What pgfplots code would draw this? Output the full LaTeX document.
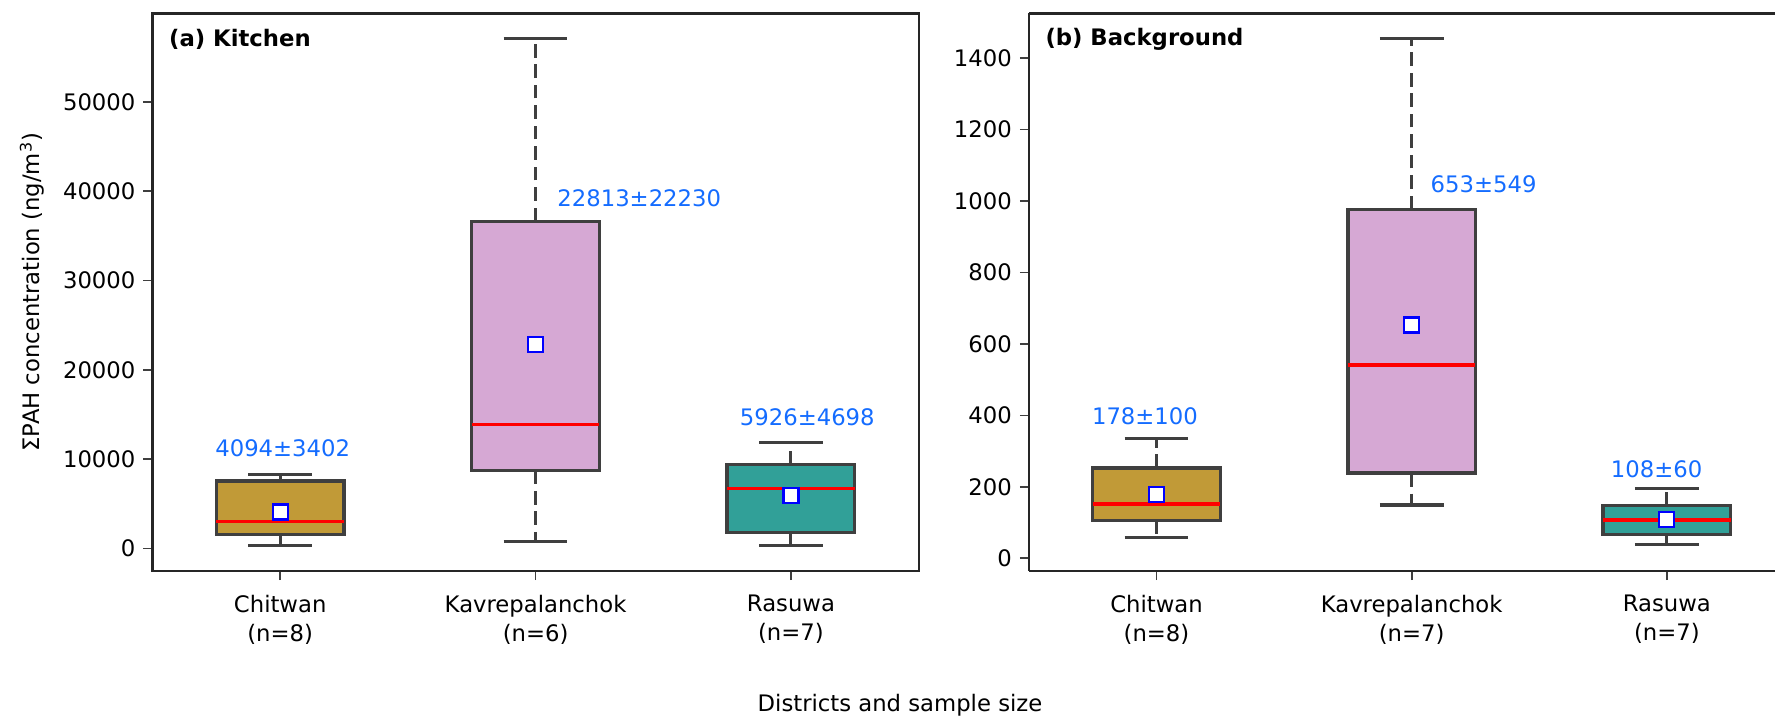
\documentclass[border=0pt]{standalone}
\usepackage{pgfplots}
\pgfplotsset{compat=1.18}
\usepackage{fontspec}
\setmainfont{DejaVu Sans}
\definecolor{cgold}{RGB}{193,154,55}
\definecolor{cplum}{RGB}{214,168,212}
\definecolor{cteal}{RGB}{49,160,152}
\definecolor{edge}{RGB}{63,63,63}
\definecolor{annblue}{RGB}{20,108,255}
\tikzset{
  annot/.style={text=annblue, font=\fontsize{10}{12}\selectfont},
  ptitle/.style={anchor=west, xshift=3.8pt, yshift=-11.3pt, font=\fontsize{10}{12}\selectfont\bfseries},
}
\pgfplotsset{
  boxst/.style={fill=#1, draw=edge, line width=1.45pt, mark=none},
  whisk/.style={draw=edge, line width=1.35pt, mark=none, dash pattern=on 6pt off 3pt},
  capst/.style={draw=edge, line width=1.45pt, mark=none},
  medst/.style={draw=red, line width=1.5pt, mark=none},
  meanmark/.style={only marks, mark=square*, mark size=3.3pt,
    mark options={fill=white, draw=blue, line width=1pt, solid}},
  myaxis/.style={
    scale only axis, height=245.3pt, anchor=north west,
    xtick={0,1,2}, xtick pos=bottom, ytick pos=left,
    tick align=outside, major tick length=4pt,
    tick style={draw=edge, line width=0.8pt},
    axis line style={draw=black!85, line width=1pt},
    ticklabel style={font=\fontsize{10}{12.8}\selectfont},
    xticklabel style={align=center, yshift=-3pt},
    scaled y ticks=false,
    /pgf/number format/.cd, 1000 sep={}, assume math mode=true,
  },
}
\begin{document}
\begin{tikzpicture}
\path[use as bounding box] (0,0) rectangle (781pt,-315.5pt);

% (a) Kitchen
\begin{axis}[myaxis, at={(67.1pt,-5.9pt)}, width=337.1pt,
  xmin=-0.5, xmax=2.5, ymin=-2500, ymax=59900,
  ytick={0,10000,20000,30000,40000,50000},
  xticklabels={{Chitwan\\(n=8)},{Kavrepalanchok\\(n=6)},{Rasuwa\\(n=7)}},
  ylabel={ΣPAH concentration (ng/m\textsuperscript{3})},
  every axis y label/.style={at={(axis description cs:-0.157,0.5)}, rotate=90, anchor=center, font=\fontsize{10}{12}\selectfont},
]
% Chitwan: lw 340, q1 1580, med 3000, q3 7580, uw 8310
\addplot[whisk] coordinates {(0,1580) (0,340)};
\addplot[whisk] coordinates {(0,7580) (0,8310)};
\addplot[capst] coordinates {(-0.125,340) (0.125,340)};
\addplot[capst] coordinates {(-0.125,8310) (0.125,8310)};
\addplot[boxst=cgold] coordinates {(-0.25,1580) (0.25,1580) (0.25,7580) (-0.25,7580)} -- cycle;
\addplot[medst] coordinates {(-0.25,3000) (0.25,3000)};
% Kavrepalanchok: lw 770, q1 8740, med 13890, q3 36640, uw 57080
\addplot[whisk] coordinates {(1,8740) (1,770)};
\addplot[whisk] coordinates {(1,36640) (1,57080)};
\addplot[capst] coordinates {(0.875,770) (1.125,770)};
\addplot[capst] coordinates {(0.875,57080) (1.125,57080)};
\addplot[boxst=cplum] coordinates {(0.75,8740) (1.25,8740) (1.25,36640) (0.75,36640)} -- cycle;
\addplot[medst] coordinates {(0.75,13890) (1.25,13890)};
% Rasuwa: lw 340, q1 1790, med 6720, q3 9430, uw 11870
\addplot[whisk] coordinates {(2,1790) (2,340)};
\addplot[whisk] coordinates {(2,9430) (2,11870)};
\addplot[capst] coordinates {(1.875,340) (2.125,340)};
\addplot[capst] coordinates {(1.875,11870) (2.125,11870)};
\addplot[boxst=cteal] coordinates {(1.75,1790) (2.25,1790) (2.25,9430) (1.75,9430)} -- cycle;
\addplot[medst] coordinates {(1.75,6720) (2.25,6720)};
% means
\addplot[meanmark] coordinates {(0,4094) (1,22813) (2,5926)};
\node[annot] at (axis cs:0.01,11220) {4094±3402};
\node[annot] at (axis cs:1.406,39200) {22813±22230};
\node[annot] at (axis cs:2.064,14740) {5926±4698};
\node[ptitle] at (rel axis cs:0,1) {(a) Kitchen};
\end{axis}

% (b) Background
\begin{axis}[myaxis, at={(452.7pt,-5.9pt)}, width=328.3pt,
  axis y line*=left,
  xmin=-0.5, xmax=2.424, ymin=-35, ymax=1525,
  ytick={0,200,400,600,800,1000,1200,1400},
  xticklabels={{Chitwan\\(n=8)},{Kavrepalanchok\\(n=7)},{Rasuwa\\(n=7)}},
]
% Chitwan: 58.7, 107, 152, 252.6, 335
\addplot[whisk] coordinates {(0,107) (0,58.7)};
\addplot[whisk] coordinates {(0,252.6) (0,335)};
\addplot[capst] coordinates {(-0.125,58.7) (0.125,58.7)};
\addplot[capst] coordinates {(-0.125,335) (0.125,335)};
\addplot[boxst=cgold] coordinates {(-0.25,107) (0.25,107) (0.25,252.6) (-0.25,252.6)} -- cycle;
\addplot[medst] coordinates {(-0.25,152) (0.25,152)};
% Kavrepalanchok: 149.7, 238.6, 541.5, 977, 1455.7
\addplot[whisk] coordinates {(1,238.6) (1,149.7)};
\addplot[whisk] coordinates {(1,977) (1,1455.7)};
\addplot[capst] coordinates {(0.875,149.7) (1.125,149.7)};
\addplot[capst] coordinates {(0.875,1455.7) (1.125,1455.7)};
\addplot[boxst=cplum] coordinates {(0.75,238.6) (1.25,238.6) (1.25,977) (0.75,977)} -- cycle;
\addplot[medst] coordinates {(0.75,541.5) (1.25,541.5)};
% Rasuwa: 38.3, 67.4, 106.9, 147.7, 194.7
\addplot[whisk] coordinates {(2,67.4) (2,38.3)};
\addplot[whisk] coordinates {(2,147.7) (2,194.7)};
\addplot[capst] coordinates {(1.875,38.3) (2.125,38.3)};
\addplot[capst] coordinates {(1.875,194.7) (2.125,194.7)};
\addplot[boxst=cteal] coordinates {(1.75,67.4) (2.25,67.4) (2.25,147.7) (1.75,147.7)} -- cycle;
\addplot[medst] coordinates {(1.75,106.9) (2.25,106.9)};
% means
\addplot[meanmark] coordinates {(0,178) (1,653) (2,108)};
\node[annot] at (axis cs:-0.045,398) {178±100};
\node[annot] at (axis cs:1.282,1046.7) {653±549};
\node[annot] at (axis cs:1.96,250.4) {108±60};
\node[ptitle] at (rel axis cs:0,1) {(b) Background};
\end{axis}

\node[font=\fontsize{10}{12}\selectfont] at (396pt,-310.2pt) {Districts and sample size};
\end{tikzpicture}
\end{document}
